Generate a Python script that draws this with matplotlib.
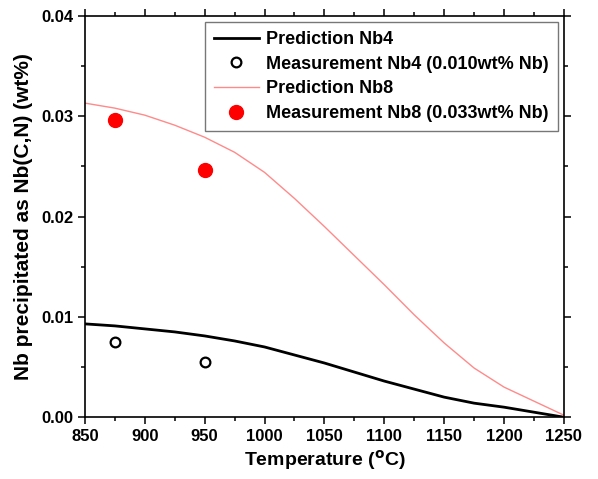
import numpy as np
import matplotlib.pyplot as plt
from matplotlib.ticker import MultipleLocator, FormatStrFormatter

plt.rcParams['font.family'] = ['Liberation Sans', 'DejaVu Sans']
plt.rcParams['font.weight'] = 'bold'
plt.rcParams['mathtext.default'] = 'bf'

# predicted curves (temperature in C, Nb in wt%)
temp_pred = [850, 875, 900, 925, 950, 975, 1000, 1025, 1050, 1075,
             1100, 1125, 1150, 1175, 1200, 1225, 1250]
pred_nb4 = [0.0093, 0.0091, 0.0088, 0.0085, 0.0081, 0.0076, 0.0070, 0.0062,
            0.0054, 0.0045, 0.0036, 0.0028, 0.0020, 0.0014, 0.0010, 0.0005, 0.0000]
pred_nb8 = [0.0313, 0.0308, 0.0301, 0.0291, 0.0279, 0.0264, 0.0244, 0.0218,
            0.0190, 0.0161, 0.0132, 0.0102, 0.0074, 0.0049, 0.0030, 0.0016, 0.0002]

# measurements
temp_meas = [875, 950]
meas_nb4 = [0.0075, 0.0055]
meas_nb8 = [0.0296, 0.0246]

fig = plt.figure(figsize=(5.98, 4.79), dpi=100)
ax = fig.add_axes([0.142, 0.129, 0.801, 0.838])

ax.plot(temp_pred, pred_nb4, color='black', lw=2.0, label='Prediction Nb4')
ax.plot(temp_meas, meas_nb4, 'o', mfc='white', mec='black', ms=7, mew=1.6,
        label='Measurement Nb4 (0.010wt% Nb)')
ax.plot(temp_pred, pred_nb8, color='#ff8a8a', lw=1.0, label='Prediction Nb8')
ax.plot(temp_meas, meas_nb8, 'o', color='#ff0000', ms=10,
        label='Measurement Nb8 (0.033wt% Nb)')

ax.set_xlim(850, 1250)
ax.set_ylim(0, 0.04)
ax.xaxis.set_major_locator(MultipleLocator(50))
ax.xaxis.set_minor_locator(MultipleLocator(25))
ax.yaxis.set_major_locator(MultipleLocator(0.01))
ax.yaxis.set_minor_locator(MultipleLocator(0.005))
ax.yaxis.set_major_formatter(FormatStrFormatter('%.2f'))

ax.tick_params(which='both', direction='out', top=True, right=True,
               labeltop=False, labelright=False, width=1.1, labelsize=12)
ax.tick_params(which='major', length=5)
ax.tick_params(which='minor', length=3)
for s in ax.spines.values():
    s.set_linewidth(1.2)

ax.set_xlabel(r'Temperature ($^\mathbf{o}$C)', fontsize=14, fontweight='bold', labelpad=3)
ax.set_ylabel('Nb precipitated as Nb(C,N) (wt%)', fontsize=15, fontweight='bold', labelpad=6)

leg = ax.legend(loc='upper right', fontsize=13, frameon=True, fancybox=False,
                edgecolor='#555555', handlelength=2.5, labelspacing=0.42,
                borderaxespad=0.35, handletextpad=0.4, borderpad=0.5)
leg.get_frame().set_linewidth(1.0)

fig.savefig('out.png', dpi=100)
